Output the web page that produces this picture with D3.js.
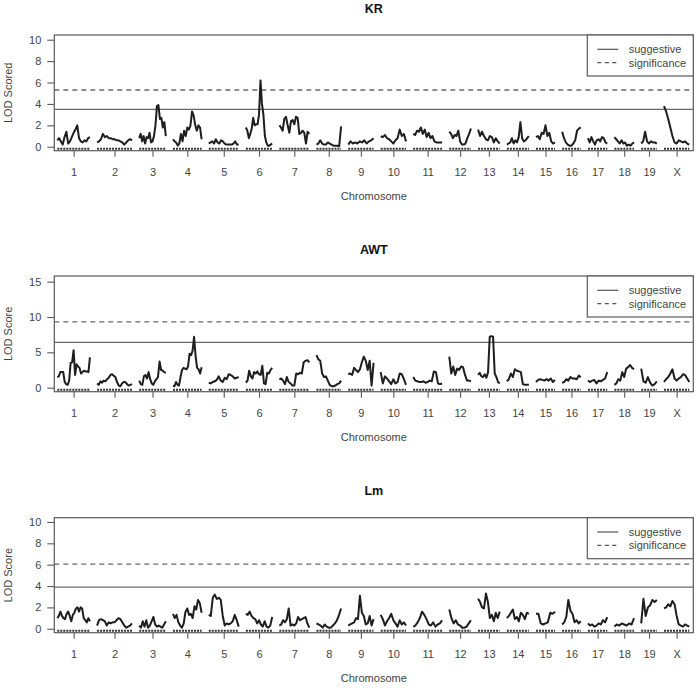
<!DOCTYPE html>
<html><head><meta charset="utf-8">
<script src="https://cdn.jsdelivr.net/npm/d3@7/dist/d3.min.js"></script>
<style>body{margin:0;background:#fff}text{font-family:"Liberation Sans",Arial,Helvetica,sans-serif}</style>
</head><body><svg id="c" width="697" height="688"></svg>
<script>
const chromNames = ["1","2","3","4","5","6","7","8","9","10","11","12","13","14","15","16","17","18","19","X"];
const chromLengths = [98,105,80,86,90,79,90,74,76,76,87,65,65,66,57,56,58,59,47,76];
const chromGap = 21.5;
const panelTitles = ["KR","AWT","Lm"];
const yLabels = ["LOD Scored","LOD Score","LOD Score"];
const legendLabels = ["suggestive","significance"];
const suggestive = [3.5, 6.4, 3.9];
const significance = [5.3, 9.3, 6.05];
const yTicks = [[0,2,4,6,8,10],[0,5,10,15],[0,2,4,6,8,10]];
const yDomains = [[-0.37,10.44],[-0.57,15.8],[-0.37,10.4]];

const krLod = [
 [0.6,0.8,0.5,0.2,0.9,1.4,0.3,0.5,0.9,1.3,1.6,2.0,0.8,0.5,0.4,0.6,0.5,0.8,0.9],
 [0.4,0.5,0.7,1.2,0.9,1.0,0.8,0.8,0.7,0.7,0.6,0.6,0.5,0.4,0.2,0.4,0.6,0.7,0.6],
 [0.8,1.2,0.5,1.0,0.3,0.9,0.8,1.3,0.4,0.5,1.0,2.0,3.8,3.9,2.6,2.7,1.8,2.3,1.0],
 [0.7,0.5,0.4,0.1,0.3,1.2,0.5,1.5,1.0,1.8,1.6,2.0,3.3,2.9,2.0,1.5,2.0,1.8,0.7],
 [0.3,0.4,0.5,0.3,0.7,0.4,0.3,0.6,0.5,0.3,0.2,0.2,0.2,0.2,0.3,0.5,0.2,0.2],
 [1.8,1.5,0.8,1.2,1.7,2.7,2.0,2.1,2.1,3.0,6.2,4.0,3.0,1.0,0.4,0.1,0.1,0.2,0.3],
 [2.0,1.8,1.5,2.6,2.8,2.0,1.3,2.4,2.5,2.1,2.8,2.7,1.2,1.3,1.5,1.3,0.3,1.4,1.2],
 [0.2,0.3,0.6,0.3,0.2,0.2,0.4,0.3,0.2,0.1,0.1,0.1,0.05,1.9],
 [0.2,0.5,0.3,0.4,0.3,0.5,0.4,0.6,0.3,0.5,0.6,0.8],
 [1.0,0.9,1.1,0.8,0.7,0.5,0.3,0.6,0.8,1.6,1.0,1.2,0.5],
 [1.2,1.1,1.5,1.4,1.8,1.2,1.6,0.9,1.3,0.8,1.0,0.5,0.4,0.4,0.4,0.4],
 [1.4,1.2,0.8,1.1,1.0,1.5,0.5,0.2,0.2,0.3,0.8,1.2,1.7],
 [1.6,1.0,1.4,1.0,0.7,0.6,1.0,0.9,0.4,0.8,0.5,0.3],
 [0.2,0.3,0.4,0.8,0.3,0.6,0.4,0.9,2.3,0.8,0.5,0.6,0.8,1.0],
 [0.9,1.0,0.7,1.3,1.2,2.0,1.0,1.3,0.5,0.3,0.4],
 [1.4,0.8,0.4,0.2,0.1,0.1,0.3,0.6,1.5,1.7,1.8],
 [0.8,0.4,0.9,0.5,0.2,0.6,0.7,0.5,0.9,0.8,0.4,0.3],
 [0.9,0.7,0.5,0.3,0.6,0.3,0.4,0.1,0.2,0.1,0.3,0.4],
 [0.3,0.5,1.4,0.5,0.3,0.5,0.4,0.4,0.3],
 [3.8,3.3,2.6,1.8,1.0,0.4,0.3,0.6,0.5,0.4,0.5,0.3,0.2]
];
const awtLod = [
 [1.5,1.6,2.2,2.2,2.2,0.8,0.5,0.4,1.0,3.5,3.6,5.3,1.8,3.3,3.0,2.8,2.0,2.2,2.4,2.3,2.3,2.2,4.3],
 [0.6,0.4,0.9,0.7,1.0,0.9,1.2,1.4,1.8,1.9,1.7,1.5,0.8,0.3,0.2,0.6,0.8,0.8,0.5,0.3,0.4,0.5],
 [1.0,0.5,0.4,1.6,1.8,1.3,2.2,1.2,0.6,0.4,0.9,1.2,1.5,3.7,2.5,2.4,2.2,2.1],
 [0.3,0.2,0.8,0.4,0.3,1.5,2.5,2.8,2.7,2.6,3.0,4.8,4.6,5.2,7.2,4.5,2.8,2.6,2.0,2.9],
 [0.7,0.6,0.8,0.9,1.1,1.6,1.0,0.8,1.4,1.2,1.9,1.8,1.6,1.3,1.4,1.5],
 [0.7,1.0,2.4,1.6,1.3,2.2,2.0,2.3,1.9,1.8,3.1,0.6,0.5,2.1,2.0,2.5,2.8],
 [1.2,1.3,1.0,0.5,1.5,0.8,0.6,0.3,0.3,2.0,1.9,2.1,2.0,3.6,3.8,3.9,3.6],
 [4.6,4.0,3.8,2.0,1.5,1.6,1.0,0.4,0.2,0.2,0.3,0.5,0.6,1.0],
 [1.9,2.0,1.8,2.8,2.5,2.2,2.6,3.6,4.4,3.8,2.5,3.8,0.3,3.5],
 [2.2,0.6,1.6,1.3,0.9,0.5,1.2,0.6,0.8,2.0,1.9,1.2,0.4],
 [1.5,1.0,0.9,0.8,0.8,0.9,0.7,0.8,1.0,0.9,2.3,2.2,0.6,0.5,0.6],
 [4.4,2.0,3.0,1.8,2.7,2.5,3.0,2.9,1.8,1.0,1.0,0.9],
 [1.8,2.1,1.6,1.5,1.9,1.4,2.2,7.2,7.3,7.2,2.0,1.5,0.8,0.6],
 [0.9,1.2,2.0,1.5,2.6,2.4,2.3,2.2,0.5,0.4,0.4,0.4],
 [0.8,1.1,1.2,1.1,1.0,1.2,1.0,1.3,0.8,1.1],
 [0.7,0.8,1.2,1.0,1.5,1.3,1.3,1.2,1.7,1.5],
 [1.0,0.8,1.0,1.1,0.6,1.0,0.9,1.1,1.3,2.2],
 [0.4,0.6,1.2,1.0,2.2,1.5,2.7,2.9,3.2,2.8,2.6],
 [2.7,0.9,0.7,1.5,0.7,0.3,0.5,0.9],
 [0.8,1.2,1.5,2.0,2.6,1.3,1.0,1.3,1.5,1.9,1.8,1.3,0.8]
];
const lmLod = [
 [1.0,1.2,1.6,1.2,1.0,0.9,1.4,1.6,1.2,0.7,1.3,1.5,1.9,2.0,1.6,2.0,1.9,1.0,0.8,0.6,1.0,0.7],
 [0.3,0.8,0.9,0.8,0.7,0.3,0.6,0.5,0.6,0.6,0.8,1.0,0.9,0.6,0.3,0.1,0.2,0.3,0.5],
 [0.3,0.1,0.7,0.2,0.8,0.1,0.3,0.7,1.1,0.4,0.2,0.3,0.2,0.1,0.4,0.7],
 [1.4,1.0,1.3,0.6,0.3,0.1,0.5,1.6,1.9,1.3,1.4,1.0,2.1,1.8,2.7,2.4,1.5],
 [1.3,1.2,2.9,3.2,2.8,2.9,2.7,1.2,0.3,0.5,0.4,0.5,0.7,1.3,0.8,0.2],
 [1.4,1.3,1.6,1.2,1.0,0.9,0.5,0.8,0.4,0.2,0.7,0.2,0.1,0.3,1.1],
 [0.3,0.4,0.8,0.6,0.9,1.9,0.3,0.4,0.3,0.5,1.1,0.8,0.9,1.0,1.1,0.5,0.1],
 [0.5,0.4,0.3,0.1,0.4,0.2,0.1,0.1,0.3,0.5,0.8,1.3,1.9],
 [0.3,0.4,0.5,0.6,1.0,0.9,3.1,1.5,1.2,0.4,0.5,1.2,0.3,0.9],
 [1.3,0.9,0.3,0.7,1.0,1.4,0.8,0.5,0.2,0.8,0.4,0.6,0.3],
 [0.2,0.3,0.6,1.0,1.6,1.3,0.9,0.4,0.3,0.6,0.2,0.4,0.5,0.8],
 [1.8,1.0,0.5,0.8,0.4,0.3,0.1,0.1,0.2,0.5,0.8],
 [2.8,2.5,2.0,1.9,3.3,2.5,1.0,1.3,0.7,1.5,1.0,1.6],
 [1.0,1.2,1.5,1.8,0.9,1.1,0.7,1.5,1.3,0.9,1.5,1.4],
 [1.4,1.4,0.5,0.4,0.5,0.6,1.5,1.4,1.6],
 [0.4,0.6,1.1,2.7,1.7,1.4,0.6,0.8,0.5,0.7],
 [0.5,0.3,0.4,0.2,0.3,0.5,0.4,0.8,0.6,1.1],
 [0.2,0.4,0.3,0.5,0.4,0.3,0.5,0.4,1.0],
 [0.5,2.8,1.2,2.0,2.2,2.7,2.5,2.7],
 [1.9,2.0,2.3,2.1,2.6,2.3,1.2,0.4,0.3,0.2,0.4,0.3,0.2]
];
const panelData = [krLod, awtLod, lmLod];

const svg = d3.select("#c");
const W = 697;
const plotLeft = 54.3, plotRight = 693.3;
const panels = [{top:35,bottom:150.7},{top:276,bottom:391.7},{top:517.7,bottom:632.7}];

let acc = 0;
const starts = chromLengths.map(L => { const s = acc; acc += L + chromGap; return s; });
const total = acc - chromGap;
const x = d3.scaleLinear().domain([-9, total + 12]).range([plotLeft, plotRight]);
const mids = chromLengths.map((L,i) => starts[i] + L/2);

const boxCol = "#5a5a5a", textCol = "#444";

panels.forEach((p, pi) => {
  const g = svg.append("g");
  const y = d3.scaleLinear().domain(yDomains[pi]).range([p.bottom, p.top]);

  // threshold lines
  g.append("line").attr("x1", plotLeft).attr("x2", plotRight)
    .attr("y1", y(suggestive[pi])).attr("y2", y(suggestive[pi]))
    .attr("stroke", "#6a6a6a").attr("stroke-width", 1.3);
  g.append("line").attr("x1", plotLeft).attr("x2", plotRight)
    .attr("y1", y(significance[pi])).attr("y2", y(significance[pi]))
    .attr("stroke", "#6a6a6a").attr("stroke-width", 1.3).attr("stroke-dasharray", "5,4");

  // rug (marker positions along each chromosome)
  chromLengths.forEach((L, ci) => {
    g.append("line").attr("x1", x(starts[ci])).attr("x2", x(starts[ci] + L))
      .attr("y1", p.bottom - 2).attr("y2", p.bottom - 2)
      .attr("stroke", "#333").attr("stroke-width", 2).attr("stroke-dasharray", "2,1");
  });

  // curves
  const line = d3.line().x(d => x(d[0])).y(d => y(d[1]));
  panelData[pi].forEach((vals, ci) => {
    const L = chromLengths[ci], n = vals.length;
    const pts = vals.map((v, i) => [starts[ci] + i * L / (n - 1), v]);
    g.append("path").attr("d", line(pts)).attr("fill", "none")
      .attr("stroke", "#1e1e1e").attr("stroke-width", 2).attr("stroke-linejoin", "round");
  });

  // box
  g.append("rect").attr("x", plotLeft).attr("y", p.top)
    .attr("width", plotRight - plotLeft).attr("height", p.bottom - p.top)
    .attr("fill", "none").attr("stroke", boxCol).attr("stroke-width", 1.2);

  // y axis
  const ya = g.append("g").attr("transform", `translate(${plotLeft},0)`)
    .call(d3.axisLeft(y).tickValues(yTicks[pi]).tickSize(7).tickPadding(6));
  ya.select(".domain").remove();
  ya.selectAll("line").attr("stroke", boxCol).attr("stroke-width", 1.1);
  ya.selectAll("text").attr("fill", textCol).style("font-size", "11px")
    .style("font-family", "'Liberation Sans',Arial,sans-serif");

  // x axis
  const xa = g.append("g").attr("transform", `translate(0,${p.bottom})`)
    .call(d3.axisBottom(x).tickValues(mids).tickFormat((d, i) => chromNames[i]).tickSize(6).tickPadding(12));
  xa.select(".domain").remove();
  xa.selectAll("line").attr("stroke", boxCol).attr("stroke-width", 1.1);
  xa.selectAll("text").attr("fill", textCol).style("font-size", "11px")
    .style("font-family", "'Liberation Sans',Arial,sans-serif");

  // title
  g.append("text").attr("x", (plotLeft + plotRight) / 2).attr("y", p.top - 22.5)
    .attr("text-anchor", "middle").attr("font-weight", "bold").attr("font-size", 12.5)
    .attr("fill", "#111").text(panelTitles[pi]);

  // x label
  g.append("text").attr("x", (plotLeft + plotRight) / 2).attr("y", p.bottom + 49)
    .attr("text-anchor", "middle").attr("font-size", 11).attr("fill", textCol).text("Chromosome");

  // y label
  g.append("text").attr("transform", `translate(11.5,${(p.top + p.bottom) / 2}) rotate(-90)`)
    .attr("text-anchor", "middle").attr("font-size", 11).attr("fill", textCol).text(yLabels[pi]);

  // legend
  const lx = 587.3, lh = 41;
  g.append("rect").attr("x", lx).attr("y", p.top).attr("width", plotRight - lx).attr("height", lh)
    .attr("fill", "#fff").attr("stroke", boxCol).attr("stroke-width", 1.2);
  legendLabels.forEach((lab, li) => {
    const ly = p.top + 14.3 + li * 13.4;
    g.append("line").attr("x1", 597.3).attr("x2", 618.3).attr("y1", ly).attr("y2", ly)
      .attr("stroke", "#555").attr("stroke-width", 1.2)
      .attr("stroke-dasharray", li === 1 ? "4,3.5" : null);
    g.append("text").attr("x", 628.7).attr("y", ly).attr("dy", "0.35em")
      .attr("font-size", 11).attr("fill", textCol).text(lab);
  });
});
</script></body></html>
